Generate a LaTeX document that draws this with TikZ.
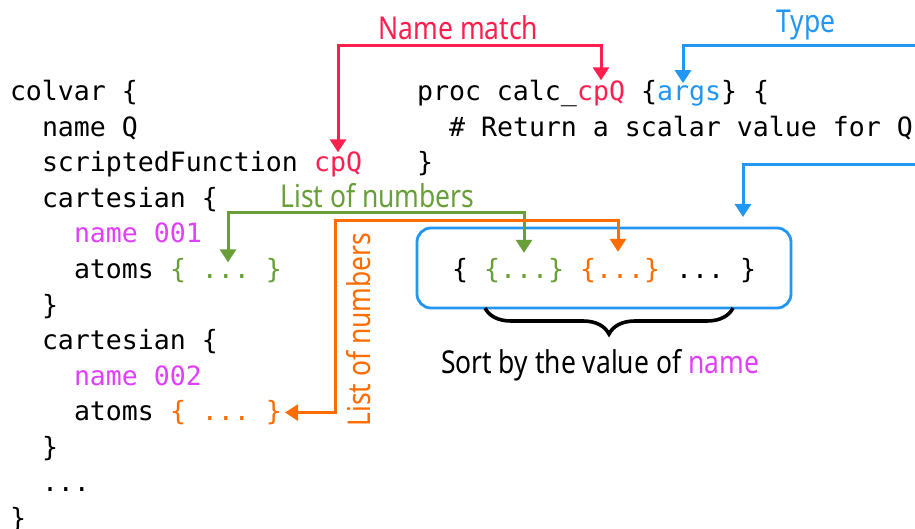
\documentclass[tikz,border=0pt]{standalone}
\usepackage{fontspec}
\usetikzlibrary{arrows.meta,decorations.pathreplacing}
\setmonofont{DejaVu Sans Mono}
\newfontfamily\labelfont[FakeStretch=0.84]{Noto Sans}
\definecolor{matchred}{HTML}{FF1F4F}
\definecolor{typeblue}{HTML}{2196F3}
\definecolor{listgreen}{HTML}{689F38}
\definecolor{listorange}{HTML}{FF6D00}
\definecolor{namemag}{HTML}{E040FB}
\tikzset{
  code/.style={font=\ttfamily\fontsize{26.576}{32}\selectfont, anchor=base west, inner sep=0pt, outer sep=0pt},
  lbl/.style={font=\labelfont\fontsize{31.5}{36}\selectfont, inner sep=0pt, outer sep=0pt, anchor=base},
  >={Triangle[width=16pt,length=13pt]},
  conn/.style={line width=3pt, line join=miter, ->},
  conntwo/.style={line width=3pt, line join=miter, <->},
}
\begin{document}
\begin{tikzpicture}[x=1pt,y=-1pt]
\fill[white] (0,0) rectangle (915,529);
\useasboundingbox (0,0) rectangle (915,529);

% colvar block
\node[code] (c0) at (10,101) {colvar \{};
\node[code] (c1) at (42,136.5) {name Q};
\node[code] (c2) at (42,172) {scriptedFunction};
\node[code, text=matchred] (lcpq) at (314,172) {cpQ};
\node[code] (c3) at (42,207.5) {cartesian \{};
\node[code, text=namemag] (c4) at (74,243) {name 001};
\node[code] (c5) at (74,278.5) {atoms};
\node[code, text=listgreen] (at1g) at (170,278.5) {\{ ... \}};
\node[code] (c6) at (42,314) {\}};
\node[code] (c7) at (42,349.5) {cartesian \{};
\node[code, text=namemag] (c8) at (74,385) {name 002};
\node[code] (c9) at (74,420.5) {atoms};
\node[code, text=listorange] (at2o) at (170,420.5) {\{ ... \}};
\node[code] (c10) at (42,456) {\}};
\node[code] (c11) at (42,491.5) {...};
\node[code] (c12) at (10,527) {\}};

% proc block
\node[code] (p0) at (417,101) {proc calc\_};
\node[code, text=matchred] (rcpq) at (577,101) {cpQ};
\node[code] (p0b) at (641,101) {\{};
\node[code, text=typeblue] (args) at (657,101) {args};
\node[code] (p0c) at (721,101) {\} \{};
\node[code] (p1) at (449,136.5) {\# Return a scalar value for Q};
\node[code] (p2) at (417,172) {\}};

% sorted set
\node[draw=typeblue, line width=2.8pt, rounded corners=14pt, minimum width=374pt,
      minimum height=80pt, inner sep=0pt, outer sep=0pt] (box) at (604,268) {};
\node[code] (s0) at (452,278) {\{};
\node[code, text=listgreen] (ig) at (484,278) {\{...\}};
\node[code, text=listorange] (io) at (580,278) {\{...\}};
\node[code] (s1) at (676,278) {... \}};

\coordinate (bl) at (485,308);
\coordinate (br) at (733,308);
\draw[line width=3.6pt, decorate, decoration={brace, mirror, amplitude=26pt}] (bl) -- (br);
\node[lbl] (sortlbl) at (600,373) {Sort by the value of \textcolor{namemag}{name}};

% labels
\node[lbl, text=matchred] (matchlbl) at (458.5,40) {Name match};
\node[lbl, text=typeblue] (typelbl) at (806,33) {Type};
\node[lbl, text=listgreen] (greenlbl) at (377.5,208) {List of numbers};
\node[lbl, text=listorange, rotate=90] (orangelbl) at (370,329.5) {List of numbers};

% connectors
\coordinate (redbar) at (0,46);
\draw[matchred, conntwo] (lcpq.north) |- (redbar -| rcpq.north) -- ([yshift=1pt]rcpq.north);

\coordinate (typeend) at (915,46);
\draw[typeblue, conn] (typeend) -| ([xshift=-6pt,yshift=3pt]args.north);

\coordinate (setend) at (915,165);
\draw[typeblue, conn] (setend) -| ([xshift=139pt,yshift=11pt]box.north);

\coordinate (greenbar) at (0,213);
\draw[listgreen, conntwo] ([xshift=2pt,yshift=-4pt]at1g.north) |- (greenbar -| ig.north) -- ([yshift=5pt]ig.north);

\coordinate (orangebar) at (0,221);
\coordinate (orangecol) at (335,0);
\draw[listorange, conntwo] ([xshift=3pt]at2o.east) -- (orangecol |- at2o.east) -- (orangecol |- orangebar) -| ([xshift=-2pt,yshift=6pt]io.north);
\end{tikzpicture}
\end{document}
